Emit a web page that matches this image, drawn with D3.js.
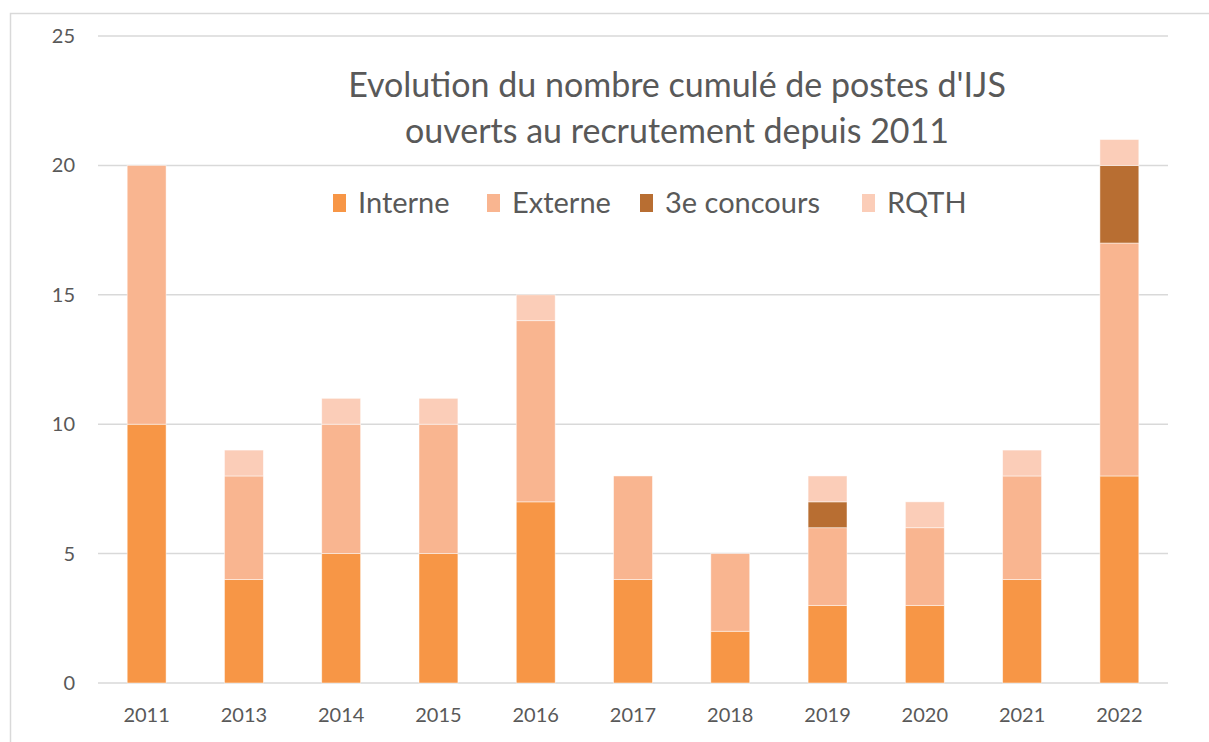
<!DOCTYPE html>
<html>
<head>
<meta charset="utf-8">
<script src="https://cdn.jsdelivr.net/npm/d3@7"></script>
<style>
  body { margin: 0; background: #fff; }
  svg { display: block; font-family: Lato, "Open Sans", sans-serif; }
</style>
</head>
<body>
<svg width="1209" height="742"></svg>
<script>
const years = ["2011", "2013", "2014", "2015", "2016", "2017", "2018", "2019", "2020", "2021", "2022"];
const interne = [10, 4, 5, 5, 7, 4, 2, 3, 3, 4, 8];
const externe = [10, 4, 5, 5, 7, 4, 3, 3, 3, 4, 9];
const troisieme = [0, 0, 0, 0, 0, 0, 0, 1, 0, 0, 3];
const rqth = [0, 1, 1, 1, 1, 0, 0, 1, 1, 1, 1];
const seriesNames = ["Interne", "Externe", "3e concours", "RQTH"];
const yTicks = [0, 5, 10, 15, 20, 25];
const titleLines = ["Evolution du nombre cumulé de postes d'IJS", "ouverts au recrutement depuis 2011"];

const colors = ["#F79646", "#F9B590", "#B86E32", "#FBCDB8"];

const svg = d3.select("svg");

// chart frame (only top and left edges show)
svg.append("path")
    .attr("d", "M10.5,742 V13.5 H1209")
    .attr("fill", "none")
    .attr("stroke", "#d9d9d9")
    .attr("stroke-width", 1.5);

const margin = { left: 98, right: 41, top: 36, bottom: 59 };
const width = 1209 - margin.left - margin.right,
    height = 742 - margin.top - margin.bottom;

const g = svg.append("g").attr("transform", `translate(${margin.left},${margin.top})`);

const x = d3.scaleBand().domain(years).range([0, width]).paddingInner(0.6).paddingOuter(0.3);
const y = d3.scaleLinear().domain([0, 25]).range([height, 0]);

// gridlines
g.append("g")
    .selectAll("line")
    .data(yTicks)
    .join("line")
    .attr("x1", 0).attr("x2", width)
    .attr("y1", d => y(d)).attr("y2", d => y(d))
    .attr("stroke", "#d9d9d9")
    .attr("stroke-width", 1.5);

const rows = years.map((yr, i) => ({
    year: yr,
    "Interne": interne[i],
    "Externe": externe[i],
    "3e concours": troisieme[i],
    "RQTH": rqth[i]
}));
const stacked = d3.stack().keys(seriesNames)(rows);

g.append("g")
    .selectAll("g")
    .data(stacked)
    .join("g")
    .attr("fill", (d, i) => colors[i])
    .selectAll("rect")
    .data(d => d.filter(p => p[1] > p[0]))
    .join("rect")
    .attr("x", d => x(d.data.year))
    .attr("width", x.bandwidth())
    .attr("y", d => y(d[1]))
    .attr("height", d => y(d[0]) - y(d[1]))
    .attr("stroke", "#fff")
    .attr("stroke-opacity", 0.6)
    .attr("stroke-width", 0.8);

// y axis labels
g.append("g")
    .selectAll("text")
    .data(yTicks)
    .join("text")
    .attr("x", -23)
    .attr("y", d => y(d))
    .attr("dy", "0.35em")
    .attr("text-anchor", "end")
    .attr("fill", "#595959")
    .style("font-size", "20px")
    .text(d => d);

// x axis labels
g.append("g")
    .selectAll("text")
    .data(years)
    .join("text")
    .attr("x", d => x(d) + x.bandwidth() / 2)
    .attr("y", height + 39)
    .attr("text-anchor", "middle")
    .attr("fill", "#595959")
    .style("font-size", "20px")
    .text(d => d);

// title
svg.append("g")
    .selectAll("text")
    .data(titleLines)
    .join("text")
    .attr("x", 677)
    .attr("y", (d, i) => 97 + i * 46)
    .attr("text-anchor", "middle")
    .attr("fill", "#595959")
    .style("font-size", "34px")
    .text(d => d);

// legend
const legendX = [333, 487, 640, 862];
const legend = svg.append("g")
    .selectAll("g")
    .data(seriesNames)
    .join("g")
    .attr("transform", (d, i) => `translate(${legendX[i]},203)`);
legend.append("rect")
    .attr("x", 0).attr("y", -9)
    .attr("width", 13).attr("height", 18)
    .attr("fill", (d, i) => colors[i]);
legend.append("text")
    .attr("x", 25)
    .attr("dy", "0.36em")
    .attr("fill", "#595959")
    .style("font-size", "29px")
    .text(d => d);
</script>
</body>
</html>
